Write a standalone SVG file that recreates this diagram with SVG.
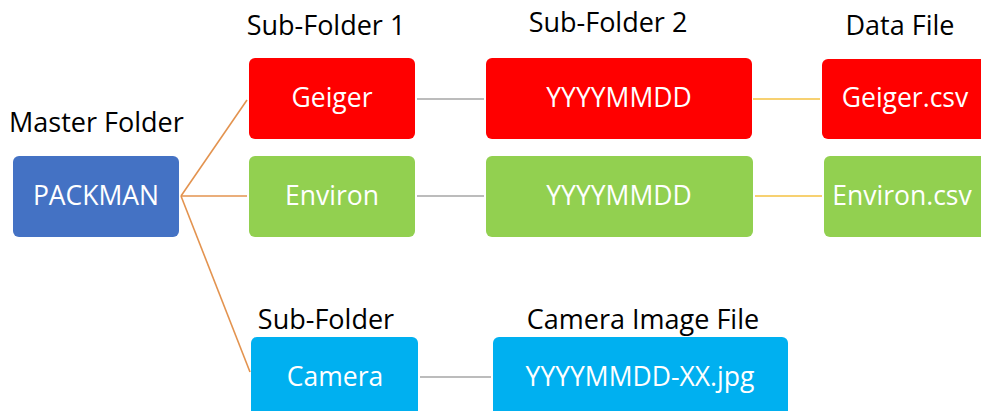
<svg xmlns="http://www.w3.org/2000/svg" width="981" height="411" viewBox="0 0 981 411">
<style>
.hdr{font-family:"Open Sans","Liberation Sans",sans-serif;font-size:27px;fill:#000;}
.lbl{font-family:"Open Sans","Liberation Sans",sans-serif;font-size:26.5px;fill:#fff;text-anchor:middle;}
.c{text-anchor:middle;}
.or{stroke:#E3934F;stroke-width:1.6;fill:none;}
.gr{stroke:#A6A6A6;stroke-width:1.6;fill:none;}
.ye{stroke:#F5C242;stroke-width:1.6;fill:none;}
</style>
<rect width="981" height="411" fill="#fff"/>
<g id="headers">
<text class="hdr" x="9" y="132">Master Folder</text>
<text class="hdr c" x="326" y="35">Sub-Folder 1</text>
<text class="hdr c" x="608" y="32">Sub-Folder 2</text>
<text class="hdr c" x="900" y="35">Data File</text>
<text class="hdr c" x="326" y="329">Sub-Folder</text>
<text class="hdr c" x="643" y="329">Camera Image File</text>
</g>
<g id="connectors">
<line class="or" x1="181" y1="196" x2="247" y2="100"/>
<line class="or" x1="181" y1="196" x2="247" y2="196"/>
<line class="or" x1="181" y1="196" x2="250" y2="372"/>
<line class="gr" x1="417" y1="99" x2="484" y2="99"/>
<line class="gr" x1="417" y1="196" x2="484" y2="196"/>
<line class="ye" x1="753" y1="99" x2="820" y2="99"/>
<line class="ye" x1="755" y1="196" x2="822" y2="196"/>
<line class="gr" x1="420" y1="377" x2="491" y2="377"/>
</g>
<g id="packman">
<rect x="13" y="156" width="166" height="81" rx="6" fill="#4472C4"/>
<text class="lbl" x="96" y="205">PACKMAN</text>
</g>
<g id="geiger">
<rect x="249" y="58" width="166" height="81" rx="6" fill="#FF0000"/>
<text class="lbl" x="332" y="107">Geiger</text>
</g>
<g id="environ">
<rect x="249" y="156" width="166" height="81" rx="6" fill="#92D050"/>
<text class="lbl" x="332" y="205">Environ</text>
</g>
<g id="geiger-date">
<rect x="486" y="58" width="266" height="81" rx="6" fill="#FF0000"/>
<text class="lbl" x="619" y="107">YYYYMMDD</text>
</g>
<g id="environ-date">
<rect x="486" y="156" width="267" height="81" rx="6" fill="#92D050"/>
<text class="lbl" x="619" y="205">YYYYMMDD</text>
</g>
<g id="geiger-csv">
<rect x="822" y="59" width="170" height="80" rx="6" fill="#FF0000"/>
<text class="lbl" x="905" y="107">Geiger.csv</text>
</g>
<g id="environ-csv">
<rect x="824" y="156" width="168" height="81" rx="6" fill="#92D050"/>
<text class="lbl" x="902" y="205">Environ.csv</text>
</g>
<g id="camera">
<rect x="251" y="337" width="167" height="90" rx="6" fill="#00B0F0"/>
<text class="lbl" x="335" y="386">Camera</text>
</g>
<g id="camera-file">
<rect x="493" y="337" width="295" height="90" rx="6" fill="#00B0F0"/>
<text class="lbl" x="640" y="386">YYYYMMDD-XX.jpg</text>
</g>
</svg>
